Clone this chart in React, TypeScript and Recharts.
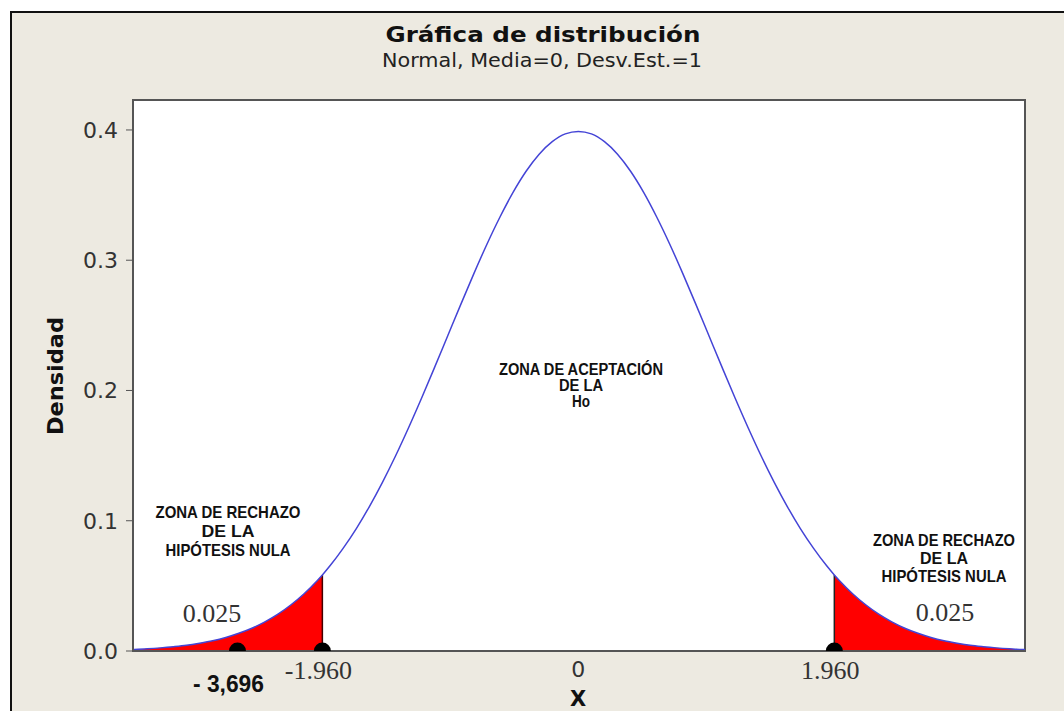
import React from "react";
import {
  ComposedChart,
  Line,
  Area,
  Scatter,
  XAxis,
  YAxis,
  CartesianGrid,
  ReferenceLine,
  ReferenceArea,
} from "recharts";

// x values along the curve and the density
const xValues = [
  -3.41, -3.4, -3.3, -3.2, -3.1, -3.0, -2.9, -2.8, -2.7, -2.6, -2.5, -2.4, -2.3, -2.2, -2.1, -2.0, -1.96,
  -1.9, -1.8, -1.7, -1.6, -1.5, -1.4, -1.3, -1.2, -1.1, -1.0, -0.9, -0.8, -0.7, -0.6, -0.5, -0.4, -0.3,
  -0.2, -0.1, 0, 0.1, 0.2, 0.3, 0.4, 0.5, 0.6, 0.7, 0.8, 0.9, 1.0, 1.1, 1.2, 1.3, 1.4, 1.5, 1.6, 1.7, 1.8,
  1.9, 1.96, 2.0, 2.1, 2.2, 2.3, 2.4, 2.5, 2.6, 2.7, 2.8, 2.9, 3.0, 3.1, 3.2, 3.3, 3.4, 3.42,
];
const densities = [
  0.0012, 0.0012, 0.0017, 0.0024, 0.0033, 0.0044, 0.006, 0.0079, 0.0104, 0.0136, 0.0175, 0.0224, 0.0283,
  0.0355, 0.044, 0.054, 0.0584, 0.0656, 0.079, 0.094, 0.1109, 0.1295, 0.1497, 0.1714, 0.1942, 0.2179,
  0.242, 0.2661, 0.2897, 0.3123, 0.3332, 0.3521, 0.3683, 0.3814, 0.391, 0.397, 0.3989, 0.397, 0.391,
  0.3814, 0.3683, 0.3521, 0.3332, 0.3123, 0.2897, 0.2661, 0.242, 0.2179, 0.1942, 0.1714, 0.1497, 0.1295,
  0.1109, 0.094, 0.079, 0.0656, 0.0584, 0.054, 0.044, 0.0355, 0.0283, 0.0224, 0.0175, 0.0136, 0.0104,
  0.0079, 0.006, 0.0044, 0.0033, 0.0024, 0.0017, 0.0012, 0.0012,
];

const critical = 1.96;
const criticalDensity = 0.0584;
const xDomain = [-3.41, 3.42];
const yDomain = [0, 0.423];

const markerX = [-2.61, -1.96, 1.96];
const yTicks = [0, 0.1, 0.2, 0.3, 0.4];
const xTicks = [-2.61, -1.96, 0, 1.96];
const xTickLabels = ["- 3,696", "-1.960", "0", "1.960"];

const curveData = xValues.map((x, i) => ({
  x,
  y: densities[i],
  leftTail: x <= -critical + 1e-9 ? densities[i] : null,
  rightTail: x >= critical - 1e-9 ? densities[i] : null,
}));

const markers = markerX.map((x) => ({ x, y: 0 }));

const BEIGE = "#EDEAE1";
const SANS = "'DejaVu Sans', Verdana, sans-serif";
const SERIF = "'Liberation Serif', 'Times New Roman', serif";
const NARROW = "'Liberation Sans', Arial, sans-serif";

const XTick = (props: any) => {
  const { x, y, payload } = props;
  const idx = xTicks.indexOf(payload.value);
  const label = xTickLabels[idx] ?? String(payload.value);
  if (idx === 0) {
    return (
      <text x={x - 9} y={y + 41} textAnchor="middle" fontFamily={NARROW} fontWeight="bold" fontSize={24} fill="#111" textLength={71} lengthAdjust="spacingAndGlyphs">
        {label}
      </text>
    );
  }
  if (label === "0") {
    return (
      <text x={x} y={y + 26} textAnchor="middle" fontFamily={SANS} fontSize={22} fill="#333">
        {label}
      </text>
    );
  }
  return (
    <text x={x - 4} y={y + 28} textAnchor="middle" fontFamily={SERIF} fontSize={26} fill="#333">
      {label}
    </text>
  );
};

const Dot = (props: any) => <circle cx={props.cx} cy={props.cy} r={8.5} fill="#000" />;

const Note = ({ x, y, w, children }: { x: number; y: number; w: number; children: string }) => (
  <text x={x} y={y} textLength={w} lengthAdjust="spacingAndGlyphs">
    {children}
  </text>
);

export default function App() {
  return (
    <div style={{ position: "absolute", left: 0, top: 0, width: 1064, height: 711, background: "#fff" }}>
      <div
        style={{
          position: "absolute",
          left: 10,
          top: 11,
          width: 1054,
          height: 700,
          background: BEIGE,
          borderTop: "2px solid #111",
          borderLeft: "2px solid #111",
          boxSizing: "border-box",
        }}
      />
      <div style={{ position: "absolute", left: 0, top: 0 }}>
        <ComposedChart width={1064} height={711} data={curveData} margin={{ top: 100, right: 39, bottom: 10, left: 63 }}>
          <CartesianGrid horizontal={false} vertical={false} fill="#fff" />
          <XAxis
            type="number"
            dataKey="x"
            domain={xDomain}
            ticks={xTicks}
            tick={<XTick />}
            tickLine={false}
            tickSize={0}
            tickMargin={0}
            height={50}
            interval={0}
            axisLine={{ stroke: "#555", strokeWidth: 2 }}
            allowDataOverflow
          />
          <YAxis
            type="number"
            domain={yDomain}
            ticks={yTicks}
            tickFormatter={(v: number) => v.toFixed(1)}
            width={70}
            tickSize={7}
            tickMargin={8}
            tick={{ fontFamily: SANS, fontSize: 22, fill: "#333" }}
            tickLine={{ stroke: "#555" }}
            axisLine={{ stroke: "#555", strokeWidth: 2 }}
            allowDataOverflow
          />
          <ReferenceArea x1={xDomain[0]} x2={xDomain[1]} y1={yDomain[0]} y2={yDomain[1]} fill="none" stroke="#555" strokeWidth={2} fillOpacity={0} />
          <Area type="monotone" dataKey="leftTail" stroke="none" fill="#FF0000" fillOpacity={1} isAnimationActive={false} connectNulls={false} />
          <Area type="monotone" dataKey="rightTail" stroke="none" fill="#FF0000" fillOpacity={1} isAnimationActive={false} connectNulls={false} />
          <ReferenceLine segment={[{ x: -critical, y: 0 }, { x: -critical, y: criticalDensity }]} stroke="#400" strokeWidth={1.5} />
          <ReferenceLine segment={[{ x: critical, y: 0 }, { x: critical, y: criticalDensity }]} stroke="#222" strokeWidth={1.5} />
          <Line type="monotone" dataKey="y" stroke="#4444D6" strokeWidth={1.5} dot={false} isAnimationActive={false} />
          <Scatter data={markers} dataKey="y" shape={<Dot />} isAnimationActive={false} />
        </ComposedChart>
      </div>
      <svg width={1064} height={711} style={{ position: "absolute", left: 0, top: 0, pointerEvents: "none" }}>
        <text x={543} y={42} textAnchor="middle" fontFamily={SANS} fontWeight="bold" fontSize={22} fill="#111" textLength={315} lengthAdjust="spacingAndGlyphs">
          Gráfica de distribución
        </text>
        <text x={542} y={67} textAnchor="middle" fontFamily={SANS} fontSize={19} fill="#222" textLength={320} lengthAdjust="spacingAndGlyphs">
          Normal, Media=0, Desv.Est.=1
        </text>
        <text x={578} y={706} textAnchor="middle" fontFamily={SANS} fontWeight="bold" fontSize={21} fill="#111">
          X
        </text>
        <text
          x={63}
          y={376}
          textAnchor="middle"
          transform="rotate(-90 63 376)"
          fontFamily={SANS}
          fontWeight="bold"
          fontSize={21}
          fill="#111"
          textLength={118}
          lengthAdjust="spacingAndGlyphs"
        >
          Densidad
        </text>
        <g fontFamily={NARROW} fontWeight="bold" fontSize={16} fill="#111" textAnchor="middle">
          <Note x={581} y={375} w={164}>ZONA DE ACEPTACIÓN</Note>
          <Note x={581} y={391} w={44}>DE LA</Note>
          <Note x={581} y={407} w={18}>Ho</Note>
        </g>
        <g fontFamily={NARROW} fontWeight="bold" fontSize={17} fill="#111" textAnchor="middle">
          <Note x={228} y={518} w={145}>ZONA DE RECHAZO</Note>
          <Note x={228} y={537} w={53}>DE LA</Note>
          <Note x={228} y={556} w={125}>HIPÓTESIS NULA</Note>
          <Note x={944} y={546} w={142}>ZONA DE RECHAZO</Note>
          <Note x={944} y={564} w={48}>DE LA</Note>
          <Note x={944} y={582} w={125}>HIPÓTESIS NULA</Note>
        </g>
        <g fontFamily={SERIF} fontSize={26} fill="#333" textAnchor="middle">
          <text x={212} y={622}>0.025</text>
          <text x={945} y={621}>0.025</text>
        </g>
      </svg>
    </div>
  );
}
